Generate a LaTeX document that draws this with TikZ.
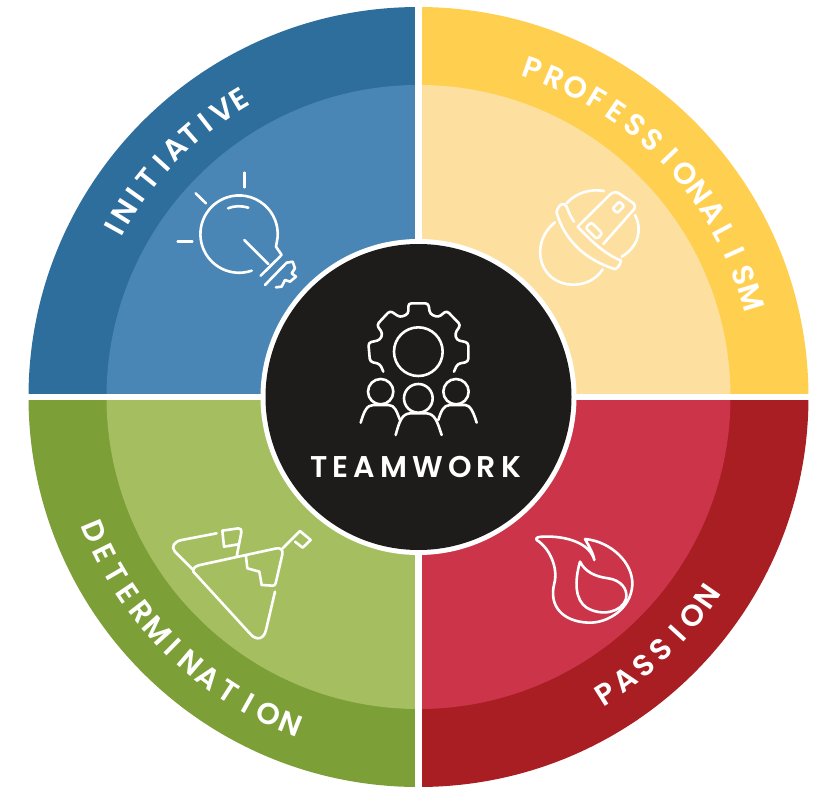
\documentclass[tikz,border=0pt]{standalone}
\usepackage{fontspec}
\newfontfamily\labf{Poppins SemiBold}
\newfontfamily\labc[LetterSpace=17]{Poppins SemiBold}
\definecolor{bOut}{HTML}{2E6E9C}\definecolor{bIn}{HTML}{4A86B5}
\definecolor{yOut}{HTML}{FFD050}\definecolor{yIn}{HTML}{FDE0A0}
\definecolor{gOut}{HTML}{7D9F38}\definecolor{gIn}{HTML}{A5BF60}
\definecolor{rOut}{HTML}{A91E22}\definecolor{rIn}{HTML}{CC344A}
\definecolor{hub}{HTML}{1D1C1A}
\tikzset{
  icon/.style={draw=white,line width=2.6pt,line cap=round,line join=round,fill=none},
  iconz/.style={x=.33333pt,y=-.33333pt,icon},
  lett/.style={text=white,inner sep=0pt,font=\labf\fontsize{30}{30}\selectfont}
}
\newcommand{\sector}[4]{\fill[#1] (hubc) -- ++(#2:#4) arc[start angle=#2,end angle=#3,radius=#4] -- cycle;}
\newlength\lw
% name, first-letter angle, last-letter angle, baseline radius, rotation base, letters
\newcommand{\arcword}[6]{%
  \gdef\gsum{0}\gdef\gn{0}\gdef\gfirst{0}\gdef\glast{0}%
  \foreach \lc [count=\i] in {#6} {%
    \settowidth\lw{\labf\fontsize{30}{30}\selectfont\lc}%
    \pgfmathsetmacro\tmpv{\gsum+\lw/1pt}\xdef\gsum{\tmpv}%
    \xdef\gn{\i}%
    \pgfmathsetmacro\tmpv{\lw/1pt}\xdef\glast{\tmpv}%
    \ifnum\i=1 \xdef\gfirst{\tmpv}\fi
  }%
  \pgfmathsetmacro\arcsign{(#3>#2)?1:-1}%
  \pgfmathsetmacro\track{(abs(#3-#2)*pi/180*#4-(\gsum-\gfirst/2-\glast/2))/(\gn-1)}%
  \xdef\gtrack{\track}\xdef\gsgn{\arcsign}%
  \gdef\gcum{0}%
  \foreach \lc [count=\i] in {#6} {%
    \settowidth\lw{\labf\fontsize{30}{30}\selectfont\lc}%
    \pgfmathsetmacro\ltw{\lw/1pt}%
    \pgfmathsetmacro\ang{#2+\gsgn*(\gcum+\ltw/2-\gfirst/2+(\i-1)*\gtrack)/#4*180/pi}%
    \pgfmathsetmacro\rotv{#5-\ang}%
    \node[lett,rotate=\rotv,anchor=base] (#1-\i) at ([shift={(\ang:#4)}]hubc) {\lc};
    \pgfmathsetmacro\tmpv{\gcum+\ltw}\xdef\gcum{\tmpv}%
  }%
}
\begin{document}
\begin{tikzpicture}[x=1pt,y=-1pt]
\useasboundingbox (0,0) rectangle (831,792);
\coordinate (hubc) at (418.5,397);
% y is flipped, so angles below run clockwise on screen
\sector{bOut}{180}{270}{390}
\sector{yOut}{270}{360}{390}
\sector{rOut}{0}{90}{390}
\sector{gOut}{90}{180}{390}
\sector{bIn}{180}{270}{312}
\sector{yIn}{270}{360}{312}
\sector{rIn}{0}{90}{312}
\sector{gIn}{90}{180}{312}
\fill[white] (415,0) rectangle (422,792);
\fill[white] (0,394) rectangle (831,400);
\fill[white] (hubc) circle[radius=158];
\fill[hub] (hubc) circle[radius=153];
% curved labels
\arcword{ini}{208.9}{238.9}{337}{270}{I,N,I,T,I,A,T,I,V,E}
\arcword{pro}{289.2}{343.3}{337}{270}{P,R,O,F,E,S,S,I,O,N,A,L,I,S,M}
\arcword{det}{157.5}{111.4}{361}{90}{D,E,T,E,R,M,I,N,A,T,I,O,N}
\arcword{pas}{57.7}{34.7}{361}{90}{P,A,S,S,I,O,N}
\node[text=white,font=\labc\fontsize{30}{30}\selectfont,inner sep=0pt,anchor=base] (teamwork) at (415.5,477) {TEAMWORK};
% bulb
\begin{scope}[shift={(150,150)},iconz]
\draw (283,68)--(283,112);
\draw (137,130)--(168,160);
\draw (83,274)--(127,274);
\draw (234,175) .. controls (252,167) and (275,167) .. (295,173);
\draw (305,362) arc[start angle=71,end angle=365,radius=116] -- (378,290) -- (395,315);
\draw (283,270)--(355,342);
\draw (332,377)--(392,318);
\draw (345,405)--(410,338) -- (428,335) -- (435,355) -- (425,370) -- (438,380) -- (420,395) -- (405,390) -- (395,410) -- (378,412);
\end{scope}
% helmet
\begin{scope}[shift={(520,170)},iconz]
\draw (252,63) .. controls (210,55) and (165,70) .. (140,100);
\draw (162,155) .. controls (152,140) and (145,125) .. (140,110) .. controls (137,103) and (130,101) .. (125,103) .. controls (118,106) and (110,118) .. (110,128) .. controls (135,215) and (200,270) .. (283,297) .. controls (292,298) and (300,285) .. (303,272) .. controls (255,252) and (215,215) .. (173,170) -- (272,72) .. controls (282,65) and (290,65) .. (300,72) -- (338,98) .. controls (346,104) and (347,112) .. (340,120) -- (250,222);
\draw (105,157) .. controls (50,200) and (45,280) .. (95,322) .. controls (140,358) and (215,350) .. (248,298);
\draw (345,135) .. controls (368,180) and (355,230) .. (305,260);
\draw[rotate around={-45:(222,182)},rounded corners=2.5pt] (198,170) rectangle (246,194);
\draw[rotate around={45:(295,112)},rounded corners=2pt] (280,102) rectangle (310,122);
\end{scope}
% gear and people
\begin{scope}[shift={(340,290)},iconz]
\draw[rounded corners=3pt] (130,245) -- (120,222) -- (90,215) -- (85,158) -- (120,150) -- (128,130) -- (110,105) -- (150,62) -- (180,82) -- (205,72) -- (205,40) -- (265,40) -- (270,72) -- (295,82) -- (320,62) -- (362,105) -- (345,130) -- (350,150) -- (385,158) -- (385,215) -- (352,222) -- (342,245);
\draw (235,185) circle[radius=73];
\draw (122,305) circle[radius=38];
\draw (235,325) circle[radius=43];
\draw (348,305) circle[radius=38];
\draw (62,398) .. controls (72,365) and (80,345) .. (100,345) -- (145,345) .. controls (165,345) and (170,365) .. (180,390);
\draw (167,435) .. controls (178,395) and (185,372) .. (210,370) -- (260,370) .. controls (285,372) and (292,395) .. (305,435);
\draw (295,390) .. controls (303,365) and (310,345) .. (330,345) -- (375,345) .. controls (390,345) and (400,365) .. (410,398);
\end{scope}
% mountain
\begin{scope}[shift={(160,515)},iconz]
\draw (170,55) -- (65,75) .. controls (42,80) and (32,95) .. (45,110) -- (100,165);
\draw (187,47) -- (235,40) .. controls (243,40) and (245,45) .. (244,52) -- (230,125);
\draw (187,47) -- (192,95) -- (235,88);
\draw (100,170) .. controls (98,158) and (108,153) .. (120,150) -- (350,100) .. controls (362,98) and (370,105) .. (367,118) -- (347,205) .. controls (346,210) and (342,212) .. (338,212) -- (305,210) -- (298,170) -- (262,160) -- (258,125);
\draw (345,230) -- (318,345) .. controls (312,372) and (290,378) .. (272,358) -- (100,170);
\draw (368,100) -- (420,48) -- (452,75) -- (428,98) -- (405,80);
\end{scope}
% flame
\begin{scope}[shift={(525,525)},iconz]
\draw (180,42) .. controls (260,50) and (325,115) .. (322,180) .. controls (318,250) and (250,295) .. (190,293) .. controls (115,290) and (70,245) .. (88,175) .. controls (100,130) and (75,70) .. (35,45) .. controls (30,38) and (40,35) .. (55,35) .. controls (125,32) and (195,55) .. (208,105) .. controls (205,85) and (190,60) .. (180,42);
\draw (165,110) .. controls (148,170) and (150,225) .. (185,248) .. controls (230,275) and (290,262) .. (303,222) .. controls (310,190) and (285,165) .. (250,160) .. controls (210,155) and (180,140) .. (165,110);
\end{scope}
\end{tikzpicture}
\end{document}
